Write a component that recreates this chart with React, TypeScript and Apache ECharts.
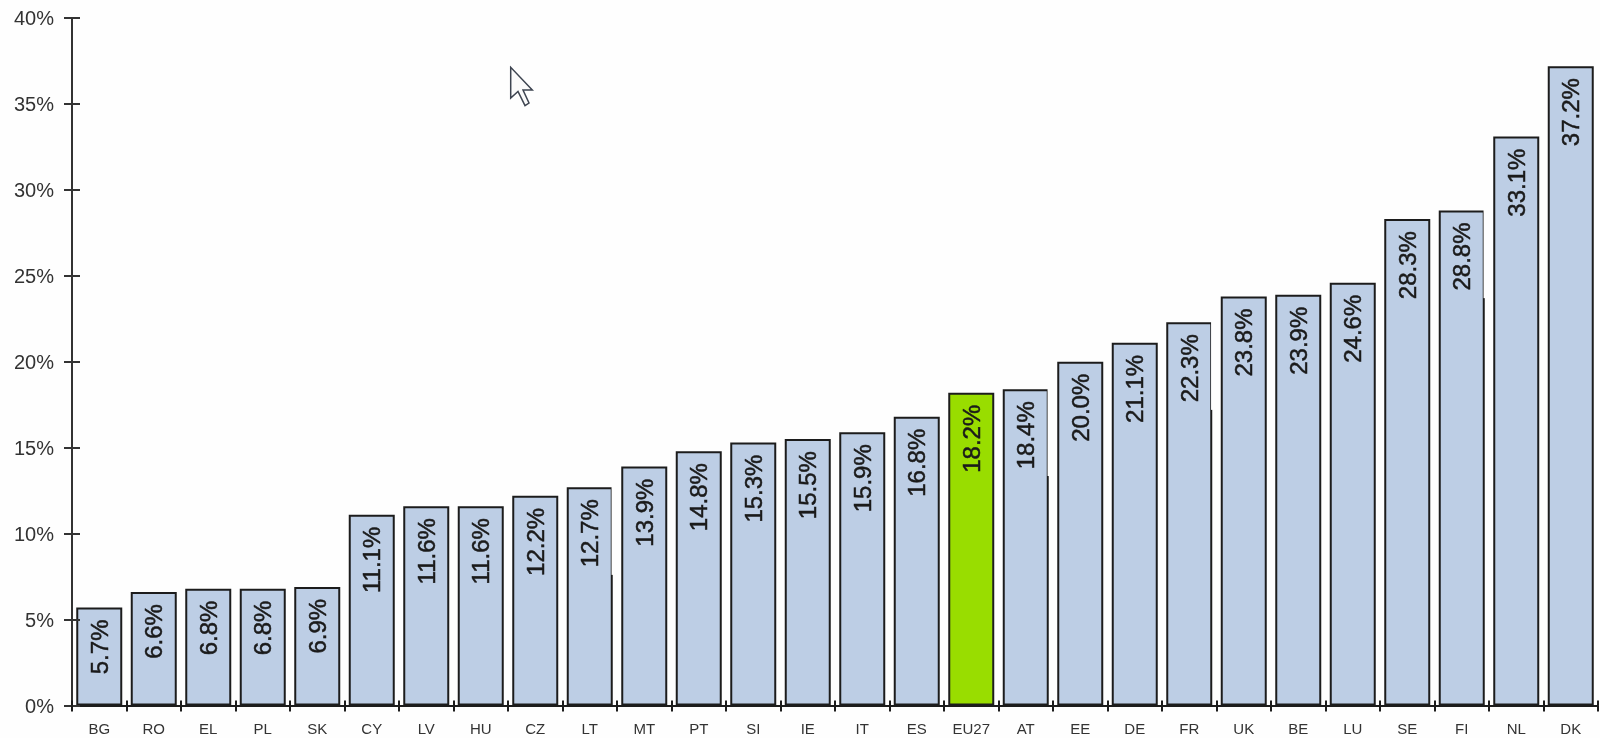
import React, { useEffect, useRef } from "react";
import * as echarts from "echarts";

const categories = ["BG","RO","EL","PL","SK","CY","LV","HU","CZ","LT","MT","PT","SI","IE","IT","ES","EU27","AT","EE","DE","FR","UK","BE","LU","SE","FI","NL","DK"];
const values = [5.7,6.6,6.8,6.8,6.9,11.1,11.6,11.6,12.2,12.7,13.9,14.8,15.3,15.5,15.9,16.8,18.2,18.4,20.0,21.1,22.3,23.8,23.9,24.6,28.3,28.8,33.1,37.2];
const highlight = "EU27";
const yTicks = { min: 0, max: 40, interval: 5 };
// Bars whose right outline is missing from the top down to a given value
const brokenOutline: [string, number][] = [["LT", 7.6], ["AT", 13.35], ["FR", 17.2], ["FI", 23.7]];
const cursorPoints = [[510.7,67.3],[510.7,98],[518,91.5],[525,105.7],[529,103],[523,90],[532.3,90]];

const INK = "#1c1c1c";

export default function App() {
  const ref = useRef<HTMLDivElement>(null);
  useEffect(() => {
    const chart = echarts.init(ref.current!, null, { renderer: "svg" });
    const hiddenAxisParts = { axisLine: { show: false }, axisLabel: { show: false }, splitLine: { show: false } };
    chart.setOption({
      animation: false,
      backgroundColor: "#fefefe",
      textStyle: { fontFamily: "Liberation Sans" },
      grid: { left: 72, top: 18, width: 1526, height: 687.5, containLabel: false },
      xAxis: [
        {
          type: "category", data: categories, position: "bottom",
          axisLine: { lineStyle: { color: INK, width: 2 } },
          axisTick: { show: true, alignWithLabel: false, interval: 0, length: 6, lineStyle: { color: INK, width: 2 } },
          axisLabel: { interval: 0, color: "#333", fontSize: 15, margin: 15 },
          z: 5,
        },
        {
          type: "category", data: categories, position: "bottom",
          axisTick: { show: true, alignWithLabel: false, interval: 0, inside: true, length: 5, lineStyle: { color: INK, width: 2 } },
          ...hiddenAxisParts, z: 5,
        },
      ],
      yAxis: [
        {
          type: "value", ...yTicks, position: "left",
          axisLine: { show: true, lineStyle: { color: "#333", width: 2 } },
          axisTick: { show: true, length: 8, lineStyle: { color: "#333", width: 2 } },
          axisLabel: { color: "#333", fontSize: 20, margin: 18, formatter: (v: number) => `${v}%` },
          splitLine: { show: false },
          z: 5,
        },
        {
          type: "value", ...yTicks, position: "left",
          axisTick: { show: true, inside: true, length: 8, lineStyle: { color: "#333", width: 2 } },
          ...hiddenAxisParts, z: 5,
        },
      ],
      series: [
        {
          type: "bar",
          barWidth: 46,
          data: categories.map((c, i) => ({
            value: values[i],
            itemStyle: { color: c === highlight ? "#99dd00" : "#bdcee5", borderColor: INK, borderWidth: 2 },
          })),
          label: {
            show: true, position: "insideTop", distance: 12, rotate: 90,
            align: "right", verticalAlign: "middle",
            fontSize: 24, color: "#1a1a1a",
            textBorderColor: "#1a1a1a", textBorderWidth: 0.5,
            formatter: (p: any) => `${Number(p.value).toFixed(1)}%`,
          },
        },
        {
          type: "custom",
          z: 3,
          silent: true,
          data: brokenOutline.map(([c, v]) => [categories.indexOf(c), values[categories.indexOf(c)], v]),
          renderItem: (_: any, api: any) => {
            const top = api.coord([api.value(0), api.value(1)]);
            const end = api.coord([api.value(0), api.value(2)]);
            const x = top[0] + 23;
            return {
              type: "rect",
              shape: { x: x - 1.2, y: top[1] - 1.2, width: 2.6, height: end[1] - top[1] + 1.2 },
              style: { fill: "#fefefe" },
            };
          },
        },
      ],
      graphic: [
        {
          type: "polygon",
          shape: { points: cursorPoints },
          style: { fill: "#fafafa", stroke: "#3d4450", lineWidth: 1.5 },
          z: 10,
        },
      ],
    });
    return () => chart.dispose();
  }, []);
  return (
    <div
      ref={ref}
      style={{ position: "fixed", left: 0, top: 0, width: 1600, height: 738, filter: "blur(0.6px)" }}
    />
  );
}
